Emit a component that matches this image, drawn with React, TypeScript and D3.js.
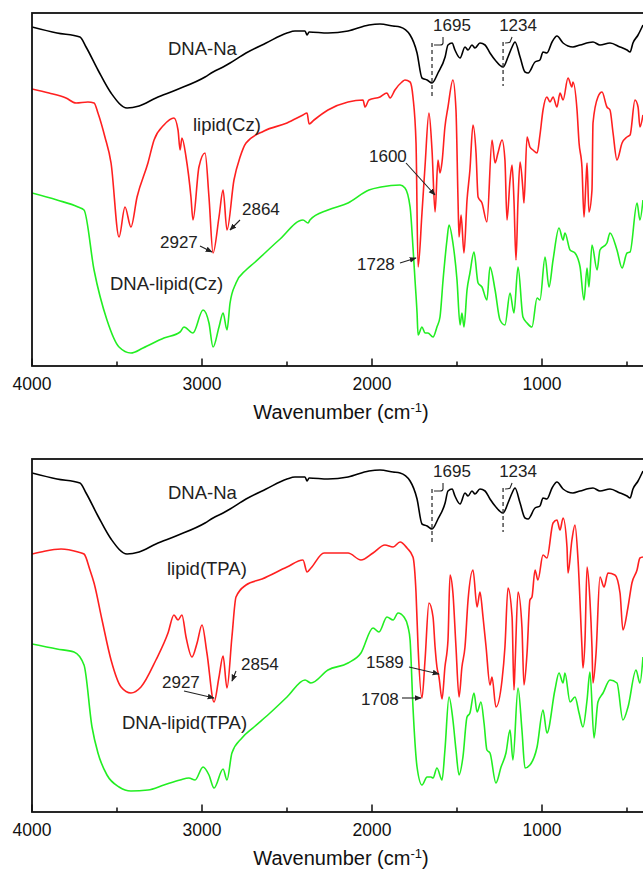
import React from "react";
import * as d3 from "d3";

const width = 643;
const height = 871;
const plotLeft = 32;
const plotRight = 644;
const panelHeight = 353;
const panelTops = [13, 459];
const font = "'Liberation Sans', Arial, sans-serif";
const red = "#ff2020";
const green = "#22ee22";

// x ticks (wavenumber, cm-1)
const majorTicks = [4000, 3000, 2000, 1000];
const minorTicks = [3500, 2500, 1500, 500];

// spectra: [wavenumber, transmittance (a.u.)]
const dnaNa = [
  [4000, 339], [3853, 333], [3718, 329], [3682, 319], [3612, 296], [3535, 273], [3441, 258], [3370, 260],
  [3271, 268], [3153, 276], [2982, 289], [2935, 294], [2876, 299], [2835, 303], [2741, 313], [2623, 323],
  [2500, 333], [2453, 335], [2394, 335], [2382, 331], [2370, 334], [2259, 333], [2141, 335], [2018, 341],
  [1953, 342], [1876, 340], [1835, 339], [1776, 331], [1735, 313], [1706, 288], [1676, 286], [1647, 283],
  [1612, 293], [1570, 309], [1553, 321], [1529, 323], [1512, 316], [1482, 308], [1453, 319], [1435, 316],
  [1412, 321], [1394, 318], [1365, 323], [1335, 321], [1306, 313], [1276, 306], [1229, 299], [1200, 309],
  [1176, 319], [1159, 324], [1129, 309], [1100, 294], [1082, 293], [1041, 304], [1012, 306], [994, 314],
  [971, 313], [941, 324], [912, 330], [876, 323], [818, 319], [776, 321], [700, 324], [659, 321],
  [600, 323], [541, 319], [500, 316], [482, 314], [465, 323], [435, 331], [406, 341],
];

const lipidCz = [
  [4000, 277], [3900, 273], [3800, 268], [3741, 263], [3671, 264], [3635, 263], [3612, 253], [3571, 229],
  [3535, 203], [3488, 129], [3453, 159], [3418, 139], [3382, 169], [3318, 203], [3282, 226], [3224, 241],
  [3165, 248], [3141, 236], [3129, 216], [3118, 228], [3094, 209], [3065, 169], [3053, 146], [3018, 199],
  [2982, 213], [2959, 169], [2935, 113], [2900, 149], [2876, 176], [2853, 136], [2812, 186], [2776, 209],
  [2741, 223], [2635, 235], [2500, 243], [2406, 251], [2382, 253], [2370, 242], [2341, 246], [2259, 256],
  [2141, 264], [2053, 266], [2041, 259], [2018, 266], [1953, 269], [1912, 273], [1894, 268], [1865, 276],
  [1824, 284], [1806, 286], [1776, 284], [1759, 269], [1741, 223], [1729, 99], [1706, 153], [1688, 200],
  [1665, 253], [1647, 216], [1629, 154], [1612, 206], [1600, 193], [1588, 204], [1571, 239], [1553, 259],
  [1524, 286], [1506, 256], [1494, 166], [1488, 129], [1476, 151], [1459, 113], [1441, 166], [1424, 196],
  [1406, 241], [1388, 213], [1376, 169], [1353, 163], [1324, 144], [1294, 226], [1276, 203], [1259, 213],
  [1235, 226], [1218, 206], [1206, 146], [1188, 186], [1176, 201], [1165, 166], [1153, 106], [1141, 166],
  [1129, 204], [1112, 176], [1106, 163], [1088, 229], [1071, 219], [1053, 216], [1029, 213], [1012, 231],
  [994, 256], [971, 269], [953, 264], [935, 269], [912, 259], [894, 273], [876, 266], [847, 288],
  [824, 279], [818, 284], [794, 256], [782, 223], [765, 199], [753, 149], [741, 186], [735, 203],
  [724, 154], [706, 176], [700, 243], [671, 269], [647, 274], [618, 259], [600, 256], [582, 233],
  [559, 206], [529, 223], [500, 229], [482, 231], [453, 266], [435, 259], [424, 239], [406, 251],
];

const dnaLipidCz = [
  [4000, 173], [3853, 166], [3729, 159], [3694, 156], [3635, 96], [3559, 46], [3488, 19], [3418, 13],
  [3347, 18], [3224, 28], [3129, 34], [3106, 39], [3053, 33], [2994, 56], [2959, 43], [2935, 19],
  [2900, 39], [2876, 53], [2853, 36], [2835, 63], [2800, 83], [2741, 96], [2694, 103], [2547, 126],
  [2406, 146], [2376, 143], [2365, 146], [2259, 156], [2141, 163], [2018, 176], [1947, 179], [1835, 181],
  [1806, 178], [1776, 159], [1759, 119], [1747, 86], [1735, 53], [1729, 31], [1706, 39], [1688, 33],
  [1671, 33], [1641, 29], [1618, 39], [1600, 49], [1582, 86], [1559, 126], [1547, 141], [1524, 123],
  [1500, 86], [1482, 41], [1471, 53], [1459, 39], [1441, 76], [1424, 93], [1400, 114], [1376, 83],
  [1353, 79], [1324, 66], [1306, 99], [1276, 76], [1247, 46], [1218, 41], [1188, 73], [1165, 53],
  [1141, 99], [1112, 49], [1088, 43], [1059, 39], [1029, 68], [1012, 66], [982, 109], [959, 79],
  [935, 106], [900, 138], [876, 126], [865, 133], [835, 116], [806, 113], [776, 99], [753, 66],
  [735, 98], [724, 79], [706, 121], [676, 96], [659, 116], [618, 123], [600, 133], [559, 116],
  [529, 98], [500, 113], [482, 114], [441, 163], [424, 146], [406, 166],
];

const lipidTpa = [
  [4000, 258], [3947, 260], [3829, 263], [3729, 260], [3694, 258], [3659, 242], [3635, 229], [3588, 192],
  [3535, 152], [3476, 125], [3418, 119], [3359, 125], [3271, 152], [3200, 179], [3165, 197], [3141, 192],
  [3118, 197], [3094, 175], [3059, 155], [3029, 169], [3000, 187], [2971, 159], [2929, 110], [2900, 135],
  [2876, 156], [2853, 124], [2824, 175], [2800, 215], [2741, 227], [2647, 233], [2500, 245], [2406, 252],
  [2382, 240], [2359, 244], [2282, 259], [2141, 259], [2065, 252], [1994, 259], [1924, 267], [1876, 265],
  [1835, 270], [1794, 264], [1759, 255], [1741, 219], [1729, 165], [1706, 114], [1688, 152], [1665, 209],
  [1641, 195], [1629, 165], [1618, 145], [1606, 135], [1588, 113], [1571, 145], [1553, 172], [1541, 237],
  [1524, 219], [1506, 165], [1488, 115], [1471, 145], [1453, 165], [1435, 212], [1406, 242], [1382, 205],
  [1365, 220], [1347, 195], [1329, 165], [1306, 127], [1294, 135], [1271, 105], [1235, 132], [1218, 165],
  [1200, 224], [1176, 195], [1165, 122], [1159, 145], [1141, 220], [1118, 185], [1106, 127], [1088, 159],
  [1071, 212], [1059, 215], [1041, 242], [1024, 232], [994, 257], [971, 254], [935, 289], [912, 292],
  [894, 282], [876, 294], [853, 265], [847, 239], [824, 272], [806, 287], [788, 252], [765, 165],
  [759, 144], [747, 172], [735, 245], [718, 212], [706, 165], [700, 129], [682, 159], [659, 235],
  [635, 225], [612, 239], [571, 237], [541, 219], [524, 182], [494, 205], [471, 229], [441, 242],
  [424, 254], [406, 255],
];

const dnaLipidTpa = [
  [4000, 168], [3853, 163], [3753, 160], [3694, 147], [3647, 85], [3612, 59], [3559, 37], [3488, 25],
  [3418, 21], [3318, 22], [3224, 27], [3129, 32], [3077, 34], [3041, 32], [2994, 45], [2959, 37],
  [2929, 24], [2876, 43], [2853, 32], [2824, 59], [2765, 74], [2694, 85], [2600, 99], [2500, 115],
  [2394, 132], [2359, 129], [2259, 142], [2141, 149], [2065, 159], [1994, 184], [1959, 180], [1912, 195],
  [1876, 192], [1847, 199], [1812, 195], [1788, 185], [1776, 172], [1759, 105], [1735, 45], [1706, 27],
  [1676, 35], [1653, 35], [1641, 34], [1618, 44], [1588, 32], [1571, 62], [1547, 115], [1524, 92],
  [1506, 62], [1488, 37], [1465, 55], [1441, 95], [1424, 99], [1400, 119], [1382, 100], [1359, 110],
  [1341, 89], [1324, 62], [1306, 59], [1271, 29], [1241, 45], [1212, 59], [1188, 82], [1171, 52],
  [1141, 124], [1118, 82], [1100, 44], [1071, 47], [1029, 65], [994, 102], [971, 79], [924, 122],
  [900, 139], [876, 129], [865, 139], [835, 110], [806, 115], [782, 99], [759, 85], [735, 112],
  [718, 140], [694, 74], [671, 110], [641, 119], [600, 132], [559, 129], [524, 92], [494, 105],
  [447, 142], [424, 129], [406, 155],
];

// dashed marker lines (label, wavenumber where the line is drawn)
const markers = [
  { label: "1695", at: 1647 },
  { label: "1234", at: 1229 },
];

const panels = [
  {
    series: [
      { data: dnaNa, color: "#000" },
      { data: lipidCz, color: red },
      { data: dnaLipidCz, color: green },
    ],
    labels: [
      { text: "DNA-Na", x: 168, y: 42 },
      { text: "lipid(Cz)", x: 193, y: 118 },
      { text: "DNA-lipid(Cz)", x: 110, y: 277 },
    ],
    notes: [
      { text: "2927", x: 160, y: 235, from: [200, 233], to: [212, 239] },
      { text: "2864", x: 242, y: 202, from: [240, 207], to: [230, 217] },
      { text: "1600", x: 369, y: 149, from: [406, 150], to: [435, 182] },
      { text: "1728", x: 357, y: 257, from: [400, 250], to: [416, 245] },
    ],
  },
  {
    series: [
      { data: dnaNa, color: "#000" },
      { data: lipidTpa, color: red },
      { data: dnaLipidTpa, color: green },
    ],
    labels: [
      { text: "DNA-Na", x: 168, y: 40 },
      { text: "lipid(TPA)", x: 167, y: 116 },
      { text: "DNA-lipid(TPA)", x: 122, y: 270 },
    ],
    notes: [
      { text: "2927", x: 162, y: 229, from: [184, 232], to: [214, 239] },
      { text: "2854", x: 241, y: 211, from: [236, 212], to: [232, 222] },
      { text: "1589", x: 366, y: 209, from: [409, 208], to: [439, 215] },
      { text: "1708", x: 361, y: 246, from: [402, 239], to: [421, 239] },
    ],
  },
];

const x = d3.scaleLinear().domain([4000, 400]).range([plotLeft, plotRight]);

function Panel({ panel, top, idx }) {
  const bottom = top + panelHeight;
  const y = d3.scaleLinear().domain([0, panelHeight]).range([bottom, top]);
  const line = d3
    .line()
    .x((d) => x(d[0]))
    .y((d) => y(d[1]))
    .curve(d3.curveMonotoneX);
  const clipId = `clip${idx}`;
  return (
    <g>
      <defs>
        <clipPath id={clipId}>
          <rect x={plotLeft} y={top} width={plotRight - plotLeft} height={panelHeight} />
        </clipPath>
      </defs>
      <g clipPath={`url(#${clipId})`}>
        {panel.series.map((s, i) => (
          <path key={i} d={line(s.data)} fill="none" stroke={s.color} strokeWidth={1.6} />
        ))}
      </g>
      {/* dashed markers */}
      {markers.map((m, i) => {
        const mx = x(m.at);
        const lx = i === 0 ? mx + 20 : mx + 15;
        return (
          <g key={m.label}>
            <line x1={mx} x2={mx} y1={top + (i === 0 ? 30 : 29)} y2={top + (i === 0 ? 85 : 73)}
              stroke="#333" strokeWidth={1.3} strokeDasharray="4,3" />
            <path
              d={i === 0
                ? `M${mx + 11},${top + 24} L${mx + 11},${top + 30} Q${mx + 11},${top + 32} ${mx + 8},${top + 32} L${mx + 2},${top + 32}`
                : `M${mx + 9},${top + 24} L${mx + 7},${top + 29} Q${mx + 6},${top + 30} ${mx + 2},${top + 30}`}
              fill="none" stroke="#222" strokeWidth={1.1} />
            <text x={lx} y={top + 18} textAnchor="middle" fontSize={17} fontFamily={font} fill="#222">
              {m.label}
            </text>
          </g>
        );
      })}
      {panel.labels.map((l) => (
        <text key={l.text} x={l.x} y={top + l.y} fontSize={18.5} fontFamily={font} fill="#222">
          {l.text}
        </text>
      ))}
      {panel.notes.map((n) => (
        <g key={n.text}>
          <text x={n.x} y={top + n.y} fontSize={17} fontFamily={font} fill="#222">{n.text}</text>
          <line x1={n.from[0]} y1={top + n.from[1]} x2={n.to[0]} y2={top + n.to[1]}
            stroke="#222" strokeWidth={1.1} markerEnd="url(#arrow)" />
        </g>
      ))}
      {/* frame */}
      <rect x={plotLeft} y={top} width={plotRight - plotLeft} height={panelHeight}
        fill="none" stroke="#111" strokeWidth={1.8} />
      {/* ticks inward */}
      {majorTicks.map((t) => (
        <g key={t}>
          <line x1={x(t)} x2={x(t)} y1={bottom} y2={bottom - 7.5} stroke="#111" strokeWidth={1.5} />
          <text x={x(t)} y={bottom + 24} textAnchor="middle" fontSize={17.5} fontFamily={font} fill="#111">
            {t}
          </text>
        </g>
      ))}
      {minorTicks.map((t) => (
        <line key={t} x1={x(t)} x2={x(t)} y1={bottom} y2={bottom - 4.5} stroke="#111" strokeWidth={1.5} />
      ))}
      <text x={341} y={bottom + 53} textAnchor="middle" fontSize={20} fontFamily={font} fill="#111">
        Wavenumber (cm
        <tspan dy={-7} fontSize={13}>-1</tspan>
        <tspan dy={7}>)</tspan>
      </text>
    </g>
  );
}

export default function App() {
  return (
    <svg
      width={width}
      height={height}
      style={{ position: "absolute", left: 0, top: 0, background: "#fff", display: "block" }}
    >
      <defs>
        <marker id="arrow" viewBox="0 0 10 10" refX="9" refY="5" markerWidth="7" markerHeight="7"
          orient="auto" markerUnits="userSpaceOnUse">
          <path d="M0,1 L10,5 L0,9 z" fill="#222" />
        </marker>
      </defs>
      <rect width={width} height={height} fill="#fff" />
      {panels.map((p, i) => (
        <Panel key={i} panel={p} top={panelTops[i]} idx={i} />
      ))}
    </svg>
  );
}
